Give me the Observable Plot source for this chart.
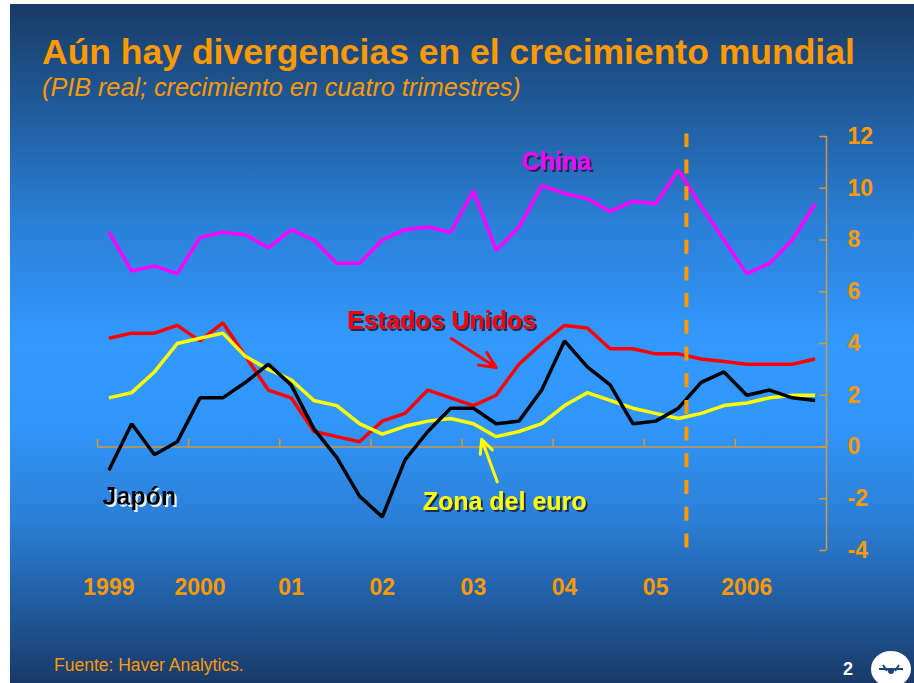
<!DOCTYPE html>
<html>
<head>
<meta charset="utf-8">
<script src="https://cdn.jsdelivr.net/npm/d3@7"></script>
<script src="https://cdn.jsdelivr.net/npm/@observablehq/plot@0.6"></script>
<style>
  html, body { margin: 0; padding: 0; background: #ffffff; }
  body { width: 914px; height: 683px; position: relative; overflow: hidden; font-family: Arial, "Liberation Sans", sans-serif; }
  #slide {
    position: absolute; left: 10px; top: 4px; width: 904px; height: 679px;
    background: linear-gradient(to bottom, #193b65 0%, #1f5896 14%, #2a7fd6 32%, #3399ff 50%, #3196f9 62%, #2b7fd6 76%, #2260a6 87%, #183a68 100%);
    overflow: hidden;
  }
  .t { position: absolute; white-space: nowrap; }
  #title { left: 32px; top: 30px; font-size: 35.5px; line-height: 36px; font-weight: bold; color: #ff9900; }
  #subtitle { left: 32px; top: 71px; font-size: 25.2px; line-height: 25px; font-style: italic; color: #ff9900; }
  #chart { position: absolute; left: 0; top: 100px; }
  #source { left: 44px; top: 652px; font-size: 17.5px; line-height: 18px; color: #ff9900; }
  #page { left: 833px; top: 656px; font-size: 18px; line-height: 18px; font-weight: bold; color: #ffffff; }
  #logo { position: absolute; left: 860px; top: 643px; }
</style>
</head>
<body>
<div id="slide">
  <div id="title" class="t">Aún hay divergencias en el crecimiento mundial</div>
  <div id="subtitle" class="t">(PIB real; crecimiento en cuatro trimestres)</div>
  <div id="chart"></div>
  <div id="source" class="t">Fuente: Haver Analytics.</div>
  <div id="page" class="t">2</div>
  <svg id="logo" width="44" height="40" viewBox="0 0 44 40">
    <ellipse cx="21" cy="22" rx="20" ry="18" fill="#ffffff"/>
    <path d="M9 22 h24 M13 18 l4 6 M29 18 l-4 6" stroke="#1b4478" stroke-width="2" fill="none"/>
    <circle cx="21" cy="24" r="3" fill="#1b4478"/>
  </svg>
</div>
<script>
// Quarterly data, 1999Q1 .. 2006Q4 (real GDP, four-quarter growth, %)
const china = [8.3, 6.8, 7.0, 6.7, 8.1, 8.3, 8.2, 7.7, 8.4, 8.0, 7.1, 7.1, 8.0, 8.4, 8.5, 8.3,
               9.9, 7.6, 8.5, 10.1, 9.8, 9.6, 9.1, 9.5, 9.4, 10.7, 9.3, 8.0, 6.7, 7.1, 8.0, 9.4];
const usa   = [4.2, 4.4, 4.4, 4.7, 4.1, 4.8, 3.5, 2.2, 1.9, 0.6, 0.4, 0.2, 1.0, 1.3, 2.2, 1.9,
               1.6, 2.0, 3.2, 4.0, 4.7, 4.6, 3.8, 3.8, 3.6, 3.6, 3.4, 3.3, 3.2, 3.2, 3.2, 3.4];
const euro  = [1.9, 2.1, 2.9, 4.0, 4.2, 4.4, 3.5, 3.0, 2.6, 1.8, 1.6, 0.9, 0.5, 0.8, 1.0, 1.1,
               0.9, 0.4, 0.6, 0.9, 1.6, 2.1, 1.8, 1.5, 1.3, 1.1, 1.3, 1.6, 1.7, 1.9, 2.0, 2.0];
const japan = [-0.9, 0.9, -0.3, 0.2, 1.9, 1.9, 2.5, 3.2, 2.4, 0.7, -0.4, -1.9, -2.7, -0.5, 0.6, 1.5,
               1.5, 0.9, 1.0, 2.2, 4.1, 3.1, 2.4, 0.9, 1.0, 1.5, 2.5, 2.9, 2.0, 2.2, 1.9, 1.8];

const yearLabels = ["1999", "2000", "01", "02", "03", "04", "05", "2006"];
const yTicks = [-4, -2, 0, 2, 4, 6, 8, 10, 12];
const yearBounds = [0, 4, 8, 12, 16, 20, 24, 28, 32];   // quarter index of year starts
const forecastStart = 25.85;                             // dashed separator (quarter index)

// series labels and pointer arrows (quarter index / percent)
const seriesLabels = [
  {name: "China", x: 20.15, y: 11.0, color: "#ff00ff", shadow: "dark"},
  {name: "Estados Unidos", x: 15.1, y: 4.87, color: "#ff0000", shadow: "dark"},
  {name: "Japón", x: 1.84, y: -1.95, color: "#000000", shadow: "light"},
  {name: "Zona del euro", x: 17.87, y: -2.13, color: "#ffff00", shadow: "dark"}
];
const pointers = [
  {x1: 15.53, y1: 4.19, x2: 17.50, y2: 3.07, color: "#ff0000"},
  {x1: 17.55, y1: -1.35, x2: 16.86, y2: 0.30, color: "#ffff00"}
];

const series = [
  {name: "China", values: china, color: "#ff00ff"},
  {name: "Estados Unidos", values: usa, color: "#ff0000"},
  {name: "Zona del euro", values: euro, color: "#ffff00"},
  {name: "Japón", values: japan, color: "#000000"}
];
const rows = series.flatMap(s => s.values.map((v, i) => ({name: s.name, q: i + 0.5, v, color: s.color})));
const yearPos = yearLabels.map((_, i) => i * 4 + 0.5);
const labelAt = new Map(yearPos.map((p, i) => [p, yearLabels[i]]));

const orange = "#ff9900";
const axisLine = "#cf974a";
const font = "Arial, 'Liberation Sans', sans-serif";

const chart = Plot.plot({
  width: 904,
  height: 520,
  marginLeft: 87,
  marginRight: 88,
  marginTop: 32,
  marginBottom: 74,
  x: {domain: [0, 32]},
  y: {domain: [-4, 12]},
  style: {background: "transparent", fontFamily: font, overflow: "visible"},
  marks: [
    // x axis along zero with upward ticks
    Plot.ruleY([0], {x1: 0, x2: 32, stroke: axisLine, strokeWidth: 1.5}),
    Plot.ruleX(yearBounds, {x: d => d, y1: 0, y2: 0.3, stroke: "#e8951e", strokeWidth: 1.5}),
    // y axis on right with inward ticks
    Plot.ruleX([32], {y1: -4, y2: 12, stroke: axisLine, strokeWidth: 1.5}),
    Plot.ruleY(yTicks, {y: d => d, x1: 31.7, x2: 32, stroke: "#e8951e", strokeWidth: 1.5}),
    Plot.axisY(yTicks, {anchor: "right", tickSize: 0, tickPadding: 21, label: null,
      tickFormat: d => String(d), fontSize: 23, fontWeight: "bold", fill: orange}),
    Plot.axisX(yearPos, {anchor: "bottom", tickSize: 0, tickPadding: 28, label: null,
      tickFormat: d => labelAt.get(d), fontSize: 23, fontWeight: "bold", fill: orange}),
    // series lines
    Plot.line(rows, {x: "q", y: "v", z: "name", stroke: "color", strokeWidth: 3.5, strokeLinejoin: "miter", strokeLinecap: "butt"}),
    // forecast separator
    Plot.ruleX([forecastStart], {y1: -3.9, y2: 12.1, stroke: orange, strokeWidth: 4, strokeDasharray: "14 12.7"}),
    // pointer arrows
    Plot.arrow(pointers, {x1: "x1", y1: "y1", x2: "x2", y2: "y2", stroke: "color", strokeWidth: 3, headLength: 11, headAngle: 50}),
    // series labels (shadow added as an SVG drop-shadow filter below)
    Plot.text(seriesLabels, {x: "x", y: "y", text: "name", fill: "color",
      fontSize: 25, fontWeight: "bold"})
  ]
});
// drop-shadow filters for the series labels
const svg = d3.select(chart);
const defs = svg.insert("defs", ":first-child");
[["lbl-shadow-dark", "#14254a"], ["lbl-shadow-light", "#ffffff"]].forEach(([id, c]) => {
  const f = defs.append("filter").attr("id", id)
    .attr("x", "-20%").attr("y", "-50%").attr("width", "150%").attr("height", "220%");
  f.append("feOffset").attr("in", "SourceAlpha").attr("dx", 2).attr("dy", 2).attr("result", "off");
  f.append("feFlood").attr("flood-color", c).attr("flood-opacity", 0.9).attr("result", "col");
  f.append("feComposite").attr("in", "col").attr("in2", "off").attr("operator", "in").attr("result", "sh");
  const m = f.append("feMerge");
  m.append("feMergeNode").attr("in", "sh");
  m.append("feMergeNode").attr("in", "SourceGraphic");
});
svg.selectAll("text").each(function() {
  const s = seriesLabels.find(l => l.name === this.textContent);
  if (s) this.setAttribute("filter", `url(#lbl-shadow-${s.shadow})`);
});
document.getElementById("chart").appendChild(chart);
</script>
</body>
</html>
